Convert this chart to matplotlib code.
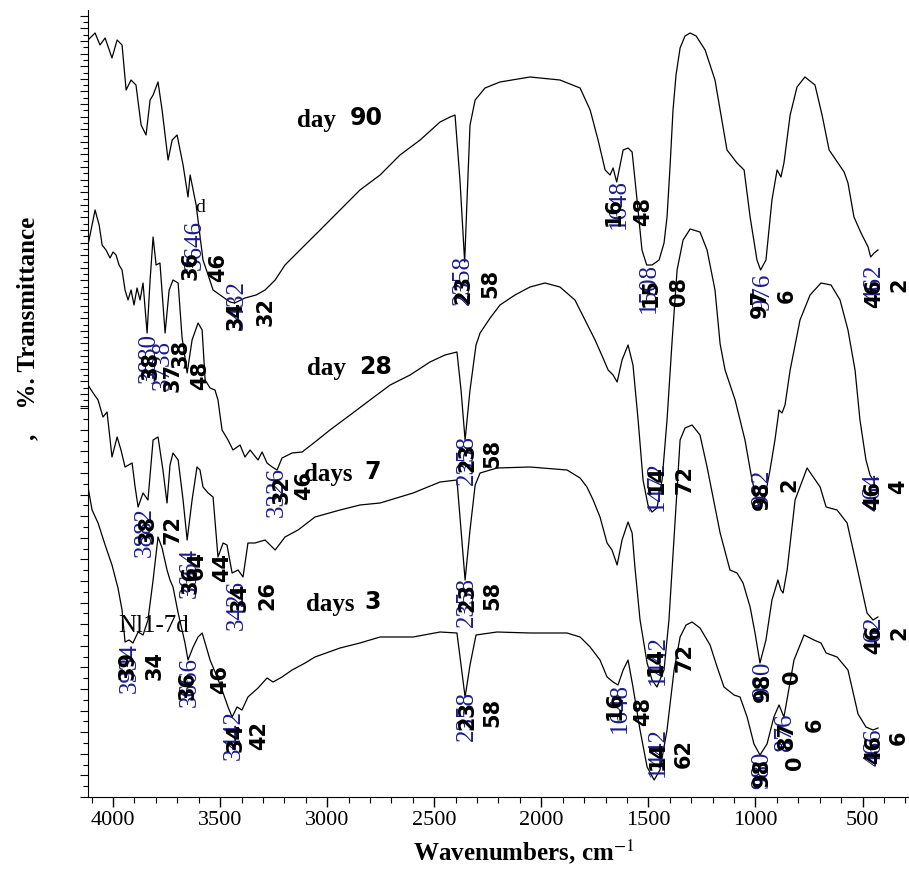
import matplotlib
matplotlib.use("Agg")
import matplotlib.pyplot as plt
from matplotlib.ticker import MultipleLocator, FixedLocator

plt.rcParams["mathtext.fontset"] = "stix"

# FTIR spectra, wavenumber (cm-1) vs transmittance (arbitrary offset units)
wn_day90 = [4117, 4084, 4061, 4037, 4005, 3981, 3958, 3939, 3916, 3893, 3869, 3846,
            3827, 3813, 3790, 3771, 3743, 3724, 3701, 3673, 3650, 3640, 3612, 3580,
            3556, 3533, 3500, 3454, 3432, 3384, 3332, 3290, 3243, 3197, 3127, 3033,
            2940, 2847, 2753, 2660, 2566, 2473, 2426, 2403, 2380, 2358, 2347, 2333,
            2309, 2263, 2193, 2053, 1913, 1819, 1772, 1735, 1702, 1679, 1665, 1648,
            1618, 1595, 1576, 1553, 1530, 1508, 1483, 1450, 1427, 1413, 1399, 1385,
            1371, 1352, 1329, 1305, 1277, 1235, 1189, 1165, 1133, 1086, 1053, 1025,
            993, 976, 951, 923, 899, 881, 867, 838, 806, 769, 722, 689, 656, 586,
            568, 540, 507, 474, 462, 446, 428]
tr_day90 = [757, 764, 752, 759, 739, 757, 752, 707, 717, 712, 672, 662,
            697, 702, 715, 687, 637, 657, 662, 632, 600, 622, 592, 537,
            522, 507, 502, 495, 494, 499, 502, 507, 517, 532, 547, 567,
            587, 607, 622, 642, 657, 675, 680, 682, 617, 535, 597, 672,
            697, 709, 715, 720, 717, 709, 687, 657, 627, 622, 629, 615,
            647, 649, 645, 597, 547, 532, 532, 537, 554, 580, 630, 687,
            722, 749, 761, 764, 761, 747, 717, 687, 647, 634, 627, 580,
            537, 527, 537, 597, 627, 620, 634, 682, 710, 720, 712, 682, 647, 625,
            614, 580, 564, 550, 540, 544, 547]

wn_day28 = [4117, 4098, 4084, 4065, 4051, 4033, 4014, 4000, 3986, 3972, 3958, 3944,
            3930, 3916, 3902, 3888, 3874, 3860, 3841, 3827, 3813, 3799, 3781, 3757,
            3738, 3720, 3696, 3678, 3654, 3631, 3603, 3584, 3570, 3547, 3524, 3510,
            3491, 3463, 3440, 3407, 3384, 3360, 3323, 3304, 3281, 3257, 3234, 3211,
            3164, 3117, 3057, 2987, 2893, 2800, 2706, 2613, 2520, 2450, 2394, 2375,
            2356, 2333, 2305, 2286, 2239, 2193, 2123, 2053, 1983, 1913, 1843, 1796,
            1749, 1712, 1688, 1665, 1646, 1623, 1595, 1572, 1548, 1525, 1502, 1483,
            1460, 1436, 1413, 1389, 1366, 1338, 1305, 1259, 1226, 1189, 1165, 1142,
            1095, 1049, 1016, 993, 979, 956, 932, 909, 890, 876, 862, 838, 792, 745,
            694, 647, 605, 568, 535, 512, 484, 465, 451, 432]
tr_day28 = [552, 572, 587, 572, 552, 547, 539, 545, 542, 532, 527, 507,
            497, 507, 492, 509, 497, 514, 464, 517, 560, 532, 534, 464,
            507, 517, 514, 460, 424, 457, 474, 467, 417, 409, 407, 397,
            367, 357, 347, 352, 340, 347, 337, 345, 334, 330, 327, 339,
            344, 345, 355, 367, 382, 397, 412, 422, 435, 442, 445, 407,
            357, 407, 452, 464, 479, 492, 502, 510, 514, 510, 497, 477,
            457, 439, 427, 422, 415, 437, 452, 432, 377, 317, 292, 285,
            289, 317, 377, 457, 527, 557, 568, 565, 547, 507, 453, 427,
            397, 357, 317, 297, 287, 300, 327, 357, 387, 384, 392, 427, 477, 502,
            514, 512, 497, 467, 427, 377, 337, 322, 317, 319]

wn_day7 = [4117, 4093, 4070, 4047, 4028, 4005, 3981, 3963, 3944, 3911, 3897, 3883,
           3860, 3837, 3813, 3790, 3767, 3748, 3734, 3720, 3696, 3673, 3654, 3631,
           3608, 3594, 3580, 3556, 3533, 3510, 3486, 3468, 3444, 3416, 3393, 3370,
           3337, 3290, 3243, 3197, 3136, 3057, 2940, 2847, 2753, 2599, 2473, 2394,
           2375, 2356, 2333, 2309, 2286, 2207, 2053, 1880, 1819, 1787, 1758, 1726,
           1693, 1670, 1646, 1623, 1595, 1576, 1563, 1539, 1506, 1483, 1460, 1427,
           1404, 1375, 1352, 1329, 1296, 1259, 1226, 1165, 1119, 1086, 1058, 1025,
           1002, 979, 951, 923, 895, 881, 871, 852, 815, 759, 727, 698, 670, 619,
           572, 526, 479, 451, 428]
tr_day7 = [412, 404, 397, 380, 385, 340, 360, 347, 330, 334, 310, 290,
           304, 297, 357, 360, 327, 294, 332, 344, 337, 297, 257, 297,
           330, 327, 310, 304, 300, 240, 254, 252, 224, 227, 220, 254,
           254, 257, 247, 260, 267, 280, 287, 292, 294, 304, 315, 317,
           267, 217, 267, 312, 324, 329, 330, 327, 319, 310, 297, 280,
           254, 247, 232, 257, 275, 264, 230, 177, 134, 117, 110, 127,
           177, 277, 357, 369, 372, 362, 330, 264, 227, 224, 214, 190,
           164, 134, 157, 197, 217, 207, 204, 227, 297, 329, 319, 310, 290, 287,
           274, 230, 184, 177, 180]

wn_day3 = [4117, 4098, 4070, 4037, 4005, 3977, 3958, 3944, 3925, 3907, 3883, 3860,
           3837, 3813, 3790, 3771, 3748, 3734, 3720, 3696, 3664, 3650, 3626, 3603,
           3584, 3570, 3547, 3514, 3486, 3463, 3444, 3421, 3398, 3370, 3323, 3281,
           3253, 3211, 3164, 3103, 3057, 2940, 2847, 2753, 2599, 2473, 2394, 2375,
           2356, 2333, 2305, 2207, 2053, 1880, 1819, 1772, 1726, 1693, 1665, 1642,
           1618, 1595, 1572, 1539, 1506, 1473, 1446, 1413, 1380, 1352, 1324, 1296,
           1259, 1212, 1179, 1147, 1100, 1072, 1039, 1007, 979, 946, 914, 890, 867,
           820, 773, 727, 694, 670, 619, 568, 521, 484, 451, 428]
tr_day3 = [310, 287, 274, 252, 232, 209, 187, 155, 157, 154, 165, 162,
           177, 217, 260, 249, 227, 217, 210, 184, 154, 137, 150, 160,
           164, 154, 137, 120, 104, 90, 80, 90, 87, 100, 109, 119,
           115, 120, 127, 134, 140, 149, 154, 160, 160, 165, 164, 132,
           100, 132, 162, 165, 164, 164, 160, 150, 137, 120, 115, 112,
           127, 137, 110, 67, 30, 17, 27, 67, 127, 160, 172, 175,
           169, 152, 130, 110, 102, 100, 80, 53, 42, 53, 80, 92, 80,
           137, 162, 157, 154, 144, 140, 127, 83, 70, 67, 69]

# peak annotations (text, wavenumber, transmittance)
blue_labels = [
    ("3646", 3617, 552), ("3432", 3421, 492), ("2358", 2366, 517), ("1648", 1637, 593),
    ("1508", 1497, 509), ("976", 965, 505), ("462", 446, 514),
    ("3880", 3832, 439), ("3738", 3767, 432), ("3326", 3234, 305), ("2358", 2347, 337),
    ("1472", 1460, 311), ("982", 969, 309), ("464", 451, 305),
    ("3882", 3851, 265), ("3664", 3640, 224), ("3426", 3421, 192), ("2358", 2347, 195),
    ("1442", 1455, 137), ("980", 965, 117), ("462", 446, 162),
    ("3934", 3921, 129), ("3666", 3640, 115), ("3442", 3435, 62), ("2358", 2347, 81),
    ("1648", 1632, 89), ("1442", 1455, 45), ("980", 969, 27), ("876", 862, 65),
    ("466", 446, 50),
]
black_labels = [
    ("36", 3640, 532), ("46", 3510, 529), ("34", 3430, 482), ("32", 3290, 485),
    ("23", 2366, 507), ("58", 2239, 514), ("16", 1660, 585), ("48", 1525, 585),
    ("15", 1488, 505), ("08", 1357, 505), ("97", 979, 494), ("6", 852, 501),
    ("46", 446, 504), ("2", 330, 512),
    ("38", 3827, 431), ("37", 3724, 419), ("38", 3687, 444), ("48", 3594, 422),
    ("32", 3211, 307), ("46", 3108, 312), ("23", 2347, 339), ("58", 2230, 344),
    ("14", 1460, 317), ("72", 1333, 318), ("98", 969, 302), ("2", 843, 312),
    ("46", 451, 302), ("4", 335, 310),
    ("38", 3841, 267), ("72", 3720, 267), ("36", 3640, 217), ("64", 3608, 232),
    ("44", 3491, 230), ("34", 3407, 199), ("26", 3281, 201), ("23", 2347, 199),
    ("58", 2230, 202), ("14", 1464, 135), ("72", 1333, 139), ("98", 965, 110),
    ("0", 829, 120), ("46", 446, 157), ("2", 330, 164),
    ("39", 3930, 132), ("34", 3804, 132), ("36", 3650, 112), ("46", 3500, 118),
    ("34", 3430, 60), ("42", 3318, 62), ("23", 2347, 81), ("58", 2230, 85),
    ("16", 1656, 92), ("48", 1525, 85), ("14", 1455, 42), ("62", 1333, 44),
    ("98", 969, 25), ("0", 815, 34), ("87", 852, 62), ("6", 722, 72),
    ("46", 446, 47), ("6", 330, 59),
]

# curve names: (word, number, word position, number position)
curve_names = [
    ("day", "90", (3052, 676), (2818, 679)),
    ("day", "28", (3005, 428), (2776, 430)),
    ("days", "7", (2996, 323), (2790, 325)),
    ("days", "3", (2987, 193), (2790, 195)),
]

SERIF = "Liberation Serif"
BLUE = "#1c1c8e"

fig = plt.figure(figsize=(9.09, 8.69), dpi=100)
ax = fig.add_axes([88 / 909, 72 / 869, 821 / 909, 787 / 869])

for wn, tr in [(wn_day90, tr_day90), (wn_day28, tr_day28),
               (wn_day7, tr_day7), (wn_day3, tr_day3)]:
    ax.plot(wn, tr, color="black", linewidth=0.9)

for txt, x, y in blue_labels:
    ax.text(x, y, txt, rotation=90, ha="center", va="center",
            fontsize=18, family=SERIF, color=BLUE)
for txt, x, y in black_labels:
    ax.text(x, y, txt, rotation=90, ha="center", va="center",
            fontsize=15, fontweight="bold", family="DejaVu Sans", color="black")

for word, num, pw, pn in curve_names:
    ax.text(pw[0], pw[1], word, ha="center", va="center", fontsize=18,
            fontweight="bold", family=SERIF)
    ax.text(pn[0], pn[1], num, ha="center", va="center", fontsize=17,
            fontweight="bold", family="DejaVu Sans")

ax.text(3813, 171, "Nl1-7d", ha="center", va="center", fontsize=18, family=SERIF)
ax.text(3594, 589, "d", ha="center", va="center", fontsize=14, family=SERIF)

ax.set_xlim(4117, 283)
ax.set_ylim(0, 787)

ax.spines["top"].set_visible(False)
ax.spines["right"].set_visible(False)

ax.xaxis.set_major_locator(MultipleLocator(500))
ax.xaxis.set_minor_locator(MultipleLocator(100))
ax.tick_params(axis="x", which="major", direction="out", length=7, width=1, pad=3)
ax.tick_params(axis="x", which="minor", direction="out", length=4, width=0.8)
for lab in ax.get_xticklabels():
    lab.set_fontfamily(SERIF)
    lab.set_fontsize(16)

yt_major = [i * 12.6 for i in range(31, 63)] + [i * 21.6 for i in range(0, 19)]
yt_minor = [i * 12.6 + 6.3 for i in range(31, 62)] + [i * 21.6 + 10.8 for i in range(0, 18)]
ax.yaxis.set_major_locator(FixedLocator(yt_major))
ax.yaxis.set_minor_locator(FixedLocator(yt_minor))
ax.tick_params(axis="y", which="major", direction="out", length=6, width=0.8, labelleft=False)
ax.tick_params(axis="y", which="minor", direction="out", length=3.5, width=0.8)

fig.text(524 / 909, 1 - 852 / 869, r"Wavenumbers, cm$^{-1}$", ha="center", va="center",
         fontsize=18, fontweight="bold", family=SERIF)
fig.text(28 / 909, 1 - 328 / 869, ",    %. Transmittance", rotation=90, ha="center",
         va="center", fontsize=18, fontweight="bold", family=SERIF)

fig.savefig("out.png", dpi=100)
